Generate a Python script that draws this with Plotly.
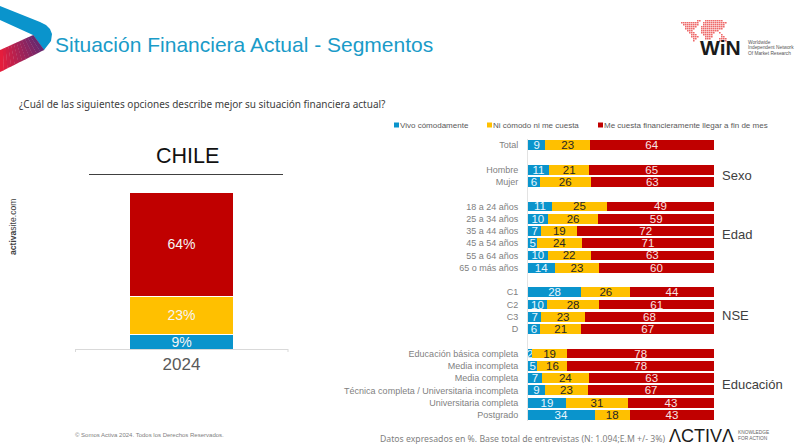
import plotly.graph_objects as go

W, H = 800, 447

# left chart
years = ['2024']
total_comodo = [9]
total_ni = [23]
total_cuesta = [64]

# right chart, blank strings are the gaps between groups
segments = ['Total', ' ', 'Hombre', 'Mujer', '  ',
            '18 a 24 años', '25 a 34 años', '35 a 44 años', '45 a 54 años', '55 a 64 años', '65 o más años', '   ',
            'C1', 'C2', 'C3', 'D', '    ',
            'Educación básica completa', 'Media incompleta', 'Media completa',
            'Técnica completa / Universitaria incompleta', 'Universitaria completa', 'Postgrado']
comodo = [9, None, 11, 6, None, 11, 10, 7, 5, 10, 14, None, 28, 10, 7, 6, None, 2, 5, 7, 9, 19, 34]
ni = [23, None, 21, 26, None, 25, 26, 19, 24, 22, 23, None, 26, 28, 23, 21, None, 19, 16, 24, 23, 31, 18]
cuesta = [64, None, 65, 63, None, 49, 59, 72, 71, 63, 60, None, 44, 61, 68, 67, None, 78, 78, 63, 67, 43, 43]

series_names = ['Vivo cómodamente', 'Ni cómodo ni me cuesta', 'Me cuesta financieramente llegar a fin de mes']
colors = ['#0A94CC', '#FFC000', '#C00000']
label_colors = ['#E8F6FC', '#262626', '#F8E4E4']

group_names = ['Sexo', 'Edad', 'NSE', 'Educación']
group_y = [175, 234, 315, 384]

world_map = [
    '        ##  #########  ',
    '#########  ############',
    ' ########  ########### ',
    '  ######  ############ ',
    '  #####   ###########  ',
    '   ###    #########    ',
    '    ###   #######  #   ',
    '     ###   #####    #  ',
    '     ####   ####    ## ',
    '      ##    ###    ####',
    '      #            ####',
]

FONT = 'Liberation Sans'


def fx(x):
    return x / W


def fy(y):
    return 1 - y / H


def label(text, x, y, size, color='#404040', anchor='left', font=FONT, angle=0):
    # annotations keep about 2px of padding on the left
    if anchor == 'left':
        x -= 2
    return dict(text=text, x=fx(x), y=fy(y), xref='paper', yref='paper', showarrow=False,
                xanchor=anchor, yanchor='middle', textangle=angle,
                font=dict(family=font, size=size, color=color))


def poly(points, color):
    path = 'M' + 'L'.join(f'{fx(x)},{fy(y)}' for x, y in points) + 'Z'
    return dict(type='path', path=path, xref='paper', yref='paper', fillcolor=color, line_width=0, layer='above')


def rect(x0, y0, x1, y1, color):
    return dict(type='rect', x0=fx(x0), x1=fx(x1), y0=fy(y0), y1=fy(y1), xref='paper', yref='paper',
                fillcolor=color, line_width=0, layer='above')


def mix(c0, c1, t):
    return 'rgb(' + ','.join(str(round(a + (b - a) * t)) for a, b in zip(c0, c1)) + ')'


fig = go.Figure()

for name, vals, col, lab in zip(series_names, [total_comodo, total_ni, total_cuesta], colors, label_colors):
    fig.add_trace(go.Bar(x=years, y=vals, name=name, marker=dict(color=col, line=dict(color='white', width=1)),
                         text=[f'{v}%' for v in vals], textposition='inside', insidetextanchor='middle',
                         constraintext='none', textangle=0,
                         textfont=dict(family=FONT, size=14, color='#F5F5F5'),
                         xaxis='x', yaxis='y', showlegend=False, width=0.49))

for name, vals, col, lab in zip(series_names, [comodo, ni, cuesta], colors, label_colors):
    fig.add_trace(go.Bar(y=segments, x=vals, name=name, orientation='h', marker=dict(color=col, line_width=0),
                         text=vals, textposition='inside', insidetextanchor='middle',
                         constraintext='none', textangle=0,
                         textfont=dict(family=FONT, size=11.5, color=lab),
                         xaxis='x2', yaxis='y2', showlegend=False, width=0.8))

annotations = [
    label('Situación Financiera Actual - Segmentos', 55, 44, 21, '#1A9BC8'),
    label('¿Cuál de las siguientes opciones describe mejor su situación financiera actual?', 19, 104, 10,
          '#404040', font='Noto Sans'),
    label('CHILE', 187, 156, 21.5, '#111111', anchor='center'),
    label('<b>activa</b>site.com', 13, 227, 8.6, '#404040', anchor='center', angle=-90),
    label('© Somos Activa 2024. Todos los Derechos Reservados.', 75, 435, 6, '#808080'),
    label('Datos expresados en %. Base total de entrevistas (N: 1.094;E.M +/- 3%)', 380, 439, 8.7,
          '#7f7f7f', font='Noto Sans'),
    label('ΛCTIVΛ', 669, 435.5, 18, '#1a1a1a'),
    label('KNOWLEDGE', 738, 432, 4.8, '#666666'),
    label('FOR ACTION', 738, 438, 4.8, '#666666'),
    label('<b>WiN</b>', 700, 47, 21, '#1a1a1a'),
    label('Worldwide', 748, 42.5, 4.8, '#555555'),
    label('Independent Network', 748, 48, 4.8, '#555555'),
    label('Of Market Research', 748, 53.5, 4.8, '#555555'),
]
for name, y in zip(group_names, group_y):
    annotations.append(label(name, 722, y, 13, '#404040'))

# legend is drawn by hand, the plotly swatch is too wide for this one
legend_x = [394, 487, 598]
for name, x, col in zip(series_names, legend_x, colors):
    annotations.append(label(name, x + 6, 125, 8, '#595959'))

shapes = [
    dict(type='line', x0=fx(89), x1=fx(283), y0=fy(174.5), y1=fy(174.5), xref='paper', yref='paper',
         line=dict(color='#404040', width=1)),
    dict(type='line', x0=fx(75.5), x1=fx(75.5), y0=fy(349), y1=fy(352), xref='paper', yref='paper',
         line=dict(color='#d9d9d9', width=1)),
    dict(type='line', x0=fx(288), x1=fx(288), y0=fy(349), y1=fy(352), xref='paper', yref='paper',
         line=dict(color='#d9d9d9', width=1)),
]
for x, col in zip(legend_x, colors):
    shapes.append(rect(x, 122.5, x + 5, 127.5, col))

# arrow logo, top left
shapes.append(poly([(0, 6), (40, 22), (46, 25), (50, 29), (52, 34), (51, 41), (44, 50), (33, 35), (0, 20)], '#0A94CC'))
steps = 12
for i in range(steps):
    t0, t1 = i / steps, (i + 1) / steps
    shapes.append(poly([(t0 * 33, 50 - 15 * t0), (t1 * 33 + 0.3, 50 - 15 * t1),
                        (t1 * 44 + 0.3, 72 - 22 * t1), (t0 * 44, 72 - 22 * t0)],
                       mix((240, 28, 56), (105, 40, 110), t1)))

# WiN map logo
map_path = ''
for r, row in enumerate(world_map):
    for c, cell in enumerate(row):
        if cell == '#':
            x0, y0 = 681 + c * 2, 20 + r * 2
            map_path += f'M{fx(x0)},{fy(y0)}L{fx(x0 + 1.6)},{fy(y0)}L{fx(x0 + 1.6)},{fy(y0 + 1.6)}L{fx(x0)},{fy(y0 + 1.6)}Z'
shapes.append(dict(type='path', path=map_path, xref='paper', yref='paper', fillcolor='#EE6A6A', line_width=0))

fig.update_layout(
    width=W, height=H, margin=dict(l=0, r=0, t=0, b=0), paper_bgcolor='white', plot_bgcolor='white',
    barmode='stack', barnorm='percent', bargap=0.2,
    xaxis=dict(domain=[fx(75), fx(288)], anchor='y', type='category', range=[-0.5, 0.5], showline=True,
               linecolor='#d9d9d9', ticks='', tickfont=dict(family=FONT, size=17, color='#595959'),
               showgrid=False, zeroline=False, fixedrange=True),
    yaxis=dict(domain=[fy(349), fy(192)], anchor='x', range=[0, 100], visible=False),
    xaxis2=dict(domain=[fx(528), fx(714)], anchor='y2', range=[0, 100], visible=False),
    yaxis2=dict(domain=[fy(421), fy(139)], anchor='x2', type='category', categoryorder='array',
                categoryarray=segments, autorange='reversed', tickmode='array',
                tickvals=[s for s in segments if s.strip()], showline=True, linecolor='#e3e3e3', ticks='',
                ticklabelstandoff=7, tickfont=dict(family=FONT, size=9, color='#7f7f7f'), showgrid=False,
                zeroline=False),
    annotations=annotations, shapes=shapes,
)

fig.write_html('out.html', config={'displayModeBar': False}, post_script='document.body.style.margin = "0";')
